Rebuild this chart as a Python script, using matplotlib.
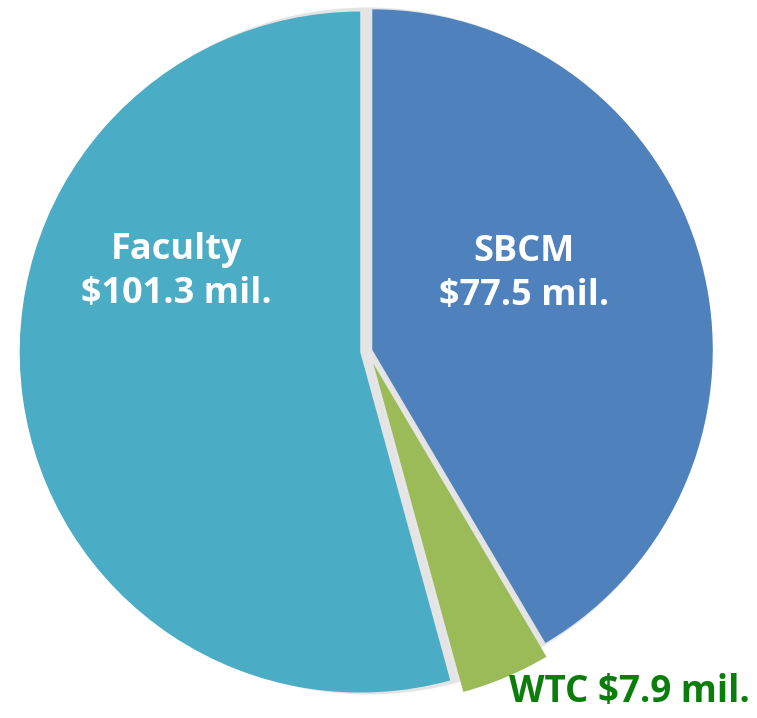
import matplotlib
matplotlib.use("Agg")
import matplotlib.pyplot as plt

labels = ["SBCM", "WTC", "Faculty"]
values = [77.5, 7.9, 101.3]
colors = ["#4F81BD", "#9BBB59", "#4BACC6"]
explode = [0.013, 0.040, 0.023]   # fraction of radius

W, H = 757, 718
fig = plt.figure(figsize=(W / 100, H / 100), dpi=100)
ax = fig.add_axes([0, 0, 1, 1])

cx, cy, r = 368, H - 351, 340.5

# light grey "shadow" under the slices shows through the gaps
ax.pie(values, colors=["#DCDCDC"] * 3, startangle=90, counterclock=False,
       center=(cx, cy), radius=r + 3, frame=True,
       wedgeprops=dict(linewidth=0, alpha=0.75))
ax.pie(values, colors=colors, explode=[e * r for e in explode], startangle=90,
       counterclock=False, center=(cx, cy), radius=r, frame=True,
       wedgeprops=dict(linewidth=0))
ax.set_xlim(0, W)
ax.set_ylim(0, H)
ax.set_aspect("equal")
ax.axis("off")

font = ["Open Sans", "DejaVu Sans"]
fs = 26
ax.text(176, H - 272, "Faculty\n$101.3 mil.", color="white", fontsize=fs, fontweight="bold",
        family=font, ha="center", va="center", linespacing=1.28)
ax.text(524, H - 274, "SBCM\n$77.5 mil.", color="white", fontsize=fs, fontweight="bold",
        family=font, ha="center", va="center", linespacing=1.28)
ax.text(629, H - 692, "WTC $7.9 mil.", color="#0B7D0B", fontsize=26.5, fontweight="bold",
        family=font, ha="center", va="center")

fig.savefig("out.png", dpi=100)
